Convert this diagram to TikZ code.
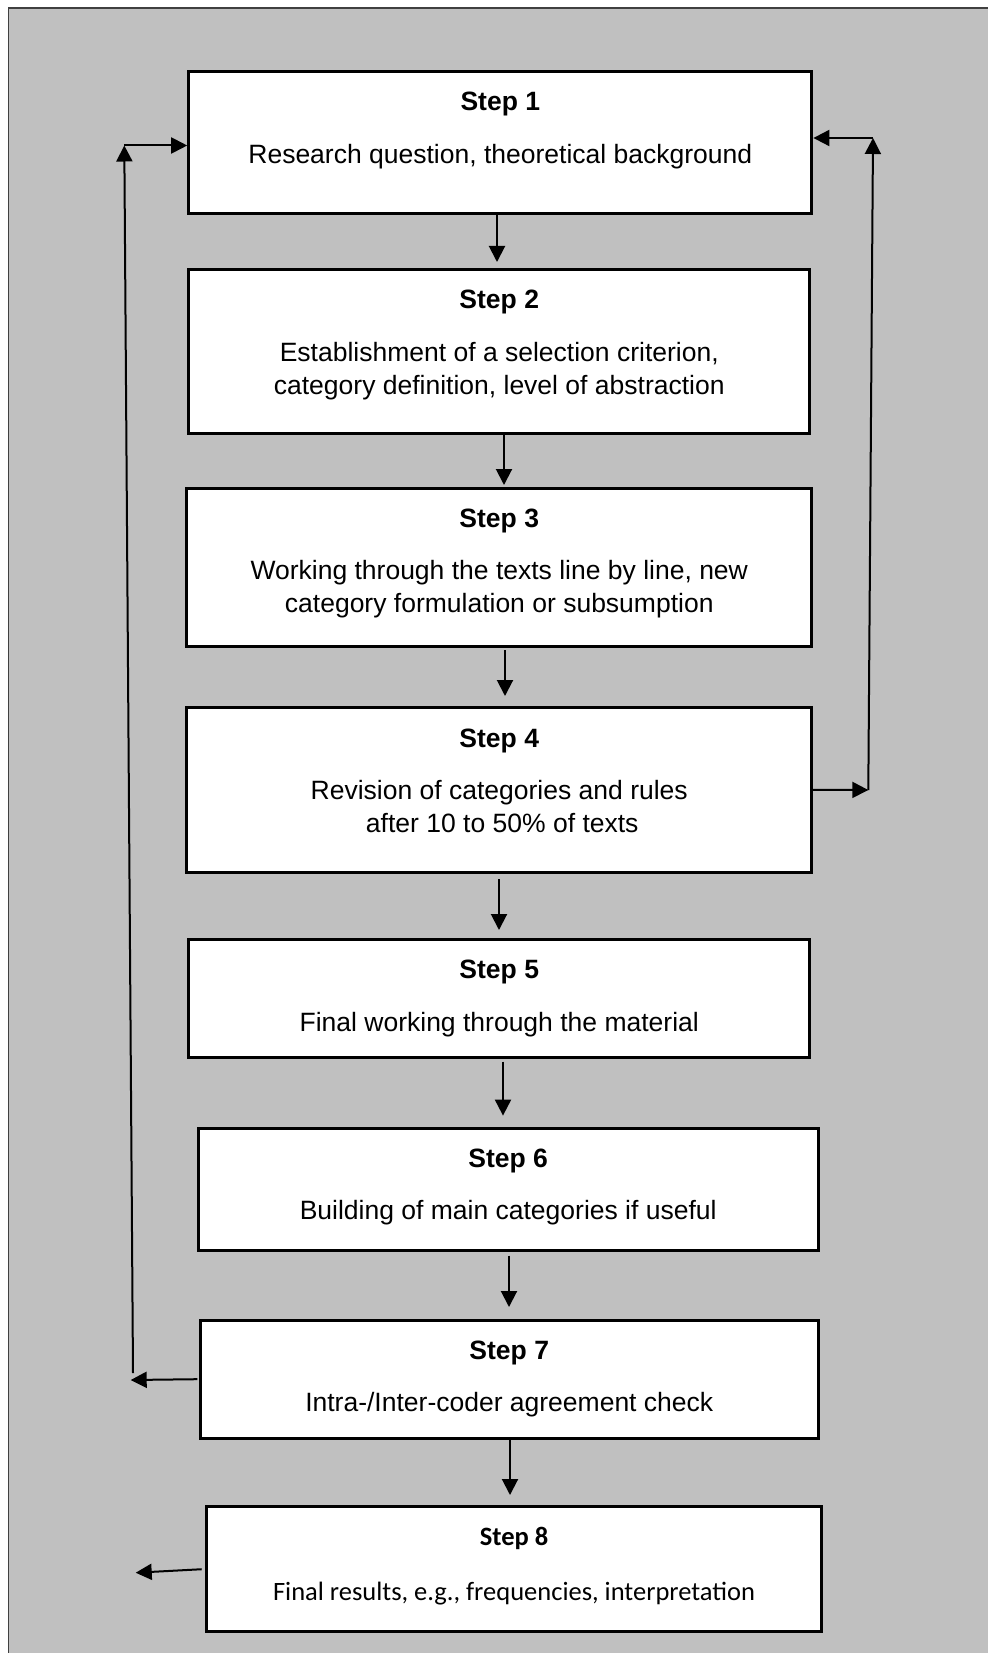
\documentclass[tikz,border=0pt]{standalone}
\usepackage{fontspec}
\setmainfont{Liberation Sans}
\newfontfamily\calib{Carlito}
\usetikzlibrary{arrows.meta}
\definecolor{bggray}{HTML}{C0C0C0}
\definecolor{framegray}{HTML}{404040}
\tikzset{
  stepbox/.style={draw=black, fill=white, line width=3pt, inner sep=0pt, outer sep=0pt},
  txt/.style={anchor=base, inner sep=0pt, font=\fontsize{26.5}{33}\selectfont},
  ctxt/.style={anchor=base, inner sep=0pt, font=\calib\fontsize{26.5}{33}\selectfont},
  arr/.style={line width=2pt, -{Triangle[length=16pt,width=16pt]}},
  plain/.style={line width=2pt}
}
\begin{document}
\begin{tikzpicture}[x=1pt,y=-1pt]
\useasboundingbox (0,0) rectangle (988,1653);
\fill[bggray] (8.5,8) rectangle (988,1653);
\draw[framegray, line width=1.5pt] (8.5,1653) -- (8.5,8) -- (988,8);

% boxes
\node[stepbox, minimum width=623.2pt, minimum height=142.3pt] (b1) at (500.3,142.85) {};
\node[stepbox, minimum width=621.1pt, minimum height=163.5pt] (b2) at (499.25,351.65) {};
\node[stepbox, minimum width=625.3pt, minimum height=158.1pt] (b3) at (499.25,567.25) {};
\node[stepbox, minimum width=625.3pt, minimum height=164.5pt] (b4) at (499.25,789.75) {};
\node[stepbox, minimum width=621.1pt, minimum height=118.1pt] (b5) at (499.25,998.55) {};
\node[stepbox, minimum width=620pt, minimum height=122.3pt] (b6) at (508.2,1189.35) {};
\node[stepbox, minimum width=617.9pt, minimum height=118.1pt] (b7) at (509.25,1379.15) {};
\node[stepbox, minimum width=614.7pt, minimum height=124.5pt] (b8) at (514.05,1568.95) {};

% texts
\node[txt] (t1) at (500.3,111) {\textbf{Step 1}};
\node[txt] (t1a) at (500.3,164) {Research question, theoretical background};
\node[txt] (t2) at (499.25,308) {\textbf{Step 2}};
\node[txt] (t2a) at (499.25,361.5) {Establishment of a selection criterion,};
\node[txt] (t2b) at (499.25,394.5) {category definition, level of abstraction};
\node[txt] (t3) at (499.25,527) {\textbf{Step 3}};
\node[txt] (t3a) at (499.25,579.5) {Working through the texts line by line, new};
\node[txt] (t3b) at (499.25,612.5) {category formulation or subsumption};
\node[txt] (t4) at (499.25,747) {\textbf{Step 4}};
\node[txt] (t4a) at (499.25,799.5) {Revision of categories and rules};
\node[txt] (t4b) at (502.25,832.5) {after 10 to 50\% of texts};
\node[txt] (t5) at (499.25,978) {\textbf{Step 5}};
\node[txt] (t5a) at (499.25,1031.5) {Final working through the material};
\node[txt] (t6) at (508.2,1167) {\textbf{Step 6}};
\node[txt] (t6a) at (508.2,1219.5) {Building of main categories if useful};
\node[txt] (t7) at (509.25,1359) {\textbf{Step 7}};
\node[txt] (t7a) at (509.25,1411.5) {Intra-/Inter-coder agreement check};
\node[ctxt] (t8) at (514.05,1545) {\textbf{Step 8}};
\node[ctxt] (t8a) at (514.05,1600.5) {Final results, e.g., frequencies, interpretation};

% arrow coordinates
\coordinate (a12) at (497,262);
\coordinate (a23) at (504,485);
\coordinate (a34) at (505,696);
\coordinate (a45) at (499,930);
\coordinate (a56) at (503,1115.6);
\coordinate (a67) at (509,1307);
\coordinate (a78) at (510,1495);

\draw[arr] (b1.south -| a12) -- (a12);
\draw[arr] (b2.south -| a23) -- (a23);
\draw[arr, shorten <=4pt] (b3.south -| a34) -- (a34);
\draw[arr, shorten <=7pt] (b4.south -| a45) -- (a45);
\draw[arr, shorten <=4pt] (b5.south -| a56) -- (a56);
\draw[arr, shorten <=5pt] (b6.south -| a67) -- (a67);
\draw[arr, shorten <=2pt] (b7.south -| a78) -- (a78);

% left feedback
\coordinate (l7) at (130.7,1380);
\coordinate (lb) at (133,1373);
\coordinate (lt) at (124.3,145.5);
\draw[arr, shorten <=3pt] (b7.west) -- (l7);
\draw[arr] (lb) -- (lt);
\draw[arr, shorten >=1.5pt] (lt) -- (b1.west |- lt);

% right feedback
\coordinate (rb) at (868.3,790);
\coordinate (rt) at (873,138);
\draw[arr] (b4.east) -- (rb);
\draw[arr] (rb) -- (rt);
\draw[arr, shorten >=1.5pt] (rt) -- (b1.east |- rt);

% step 8 arrow
\coordinate (e8) at (135.7,1572.7);
\draw[arr, shorten <=5pt] (b8.west) -- (e8);
\end{tikzpicture}
\end{document}
